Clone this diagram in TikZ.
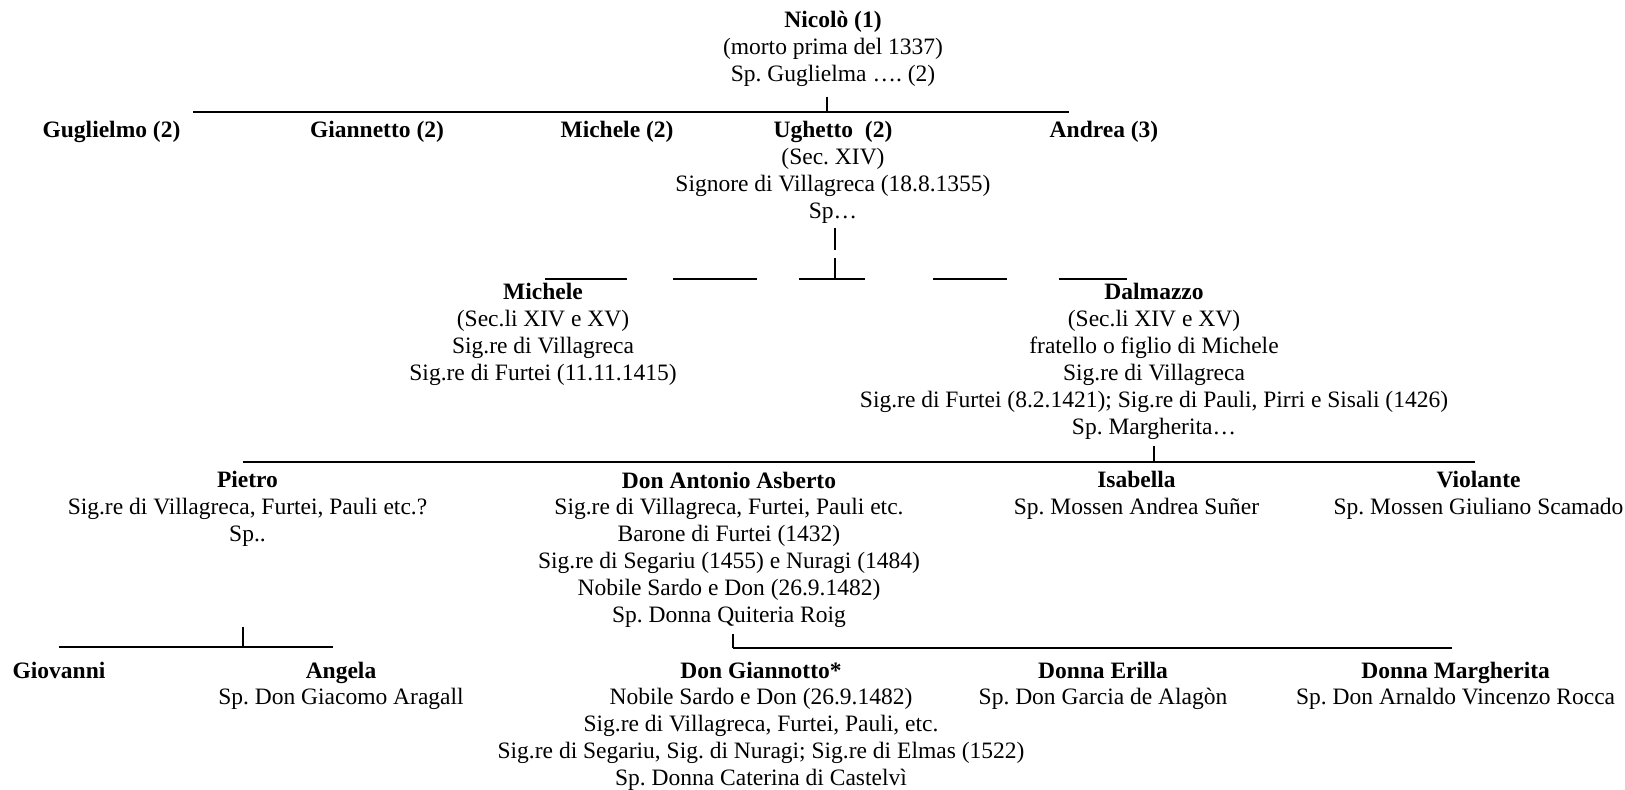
\documentclass[tikz,border=0pt]{standalone}
\usepackage{fontspec}
\setmainfont{Liberation Serif}
\usepackage{tikz}
\frenchspacing

\begin{document}
\begin{tikzpicture}[x=0.5pt,y=-0.5pt,
  pers/.style={align=center,anchor=base,inner sep=0pt,font=\fontsize{11.75}{13.45}\selectfont},
  bus/.style={line width=0.9pt},
  stem/.style={line width=0.6pt}]
  \useasboundingbox (0,0) rectangle (1625,790);
  \def\ls{26.9} % interlinea; anchor=base cade sull'ultima riga
  % generazione 1
  \node[pers] (nicolo) at (833,{28+2*\ls}) {\textbf{Nicolò (1)}\\(morto prima del 1337)\\Sp. Guglielma …. (2)};
  \coordinate (b1w) at (193,112); \coordinate (b1e) at (1069,112); \coordinate (b1t) at (827,97);
  \draw[bus] (b1w) -- (b1e); \draw[stem] (b1t) -- (b1t |- b1w);
  % generazione 2
  \node[pers] (guglielmo) at (111.5,138) {\textbf{Guglielmo (2)}};
  \node[pers] (giannetto) at (377,138) {\textbf{Giannetto (2)}};
  \node[pers] (michele2) at (617,138) {\textbf{Michele (2)}};
  \node[pers] (ughetto) at (833,{138+3*\ls}) {\textbf{Ughetto\ \ (2)}\\(Sec. XIV)\\Signore di Villagreca (18.8.1355)\\Sp…};
  \node[pers] (andrea) at (1104,138) {\textbf{Andrea (3)}};
  \coordinate (u1) at (835,228); \coordinate (u2) at (835,250); \coordinate (u3) at (835,258); \coordinate (u4) at (835,279);
  \draw[stem] (u1) -- (u2); \draw[stem] (u3) -- (u4);
  \foreach \a/\b in {545/627,673/757,799/865,933/1007,1059/1127} \draw[bus] (\a,279) -- (\b,279);
  % generazione 3
  \node[pers] (michele) at (543,{300+3*\ls}) {\textbf{Michele}\\(Sec.li XIV e XV)\\Sig.re di Villagreca\\Sig.re di Furtei (11.11.1415)};
  \node[pers] (dalmazzo) at (1154,{300+5*\ls}) {\textbf{Dalmazzo}\\(Sec.li XIV e XV)\\fratello o figlio di Michele\\Sig.re di Villagreca\\Sig.re di Furtei (8.2.1421); Sig.re di Pauli, Pirri e Sisali (1426)\\Sp. Margherita…};
  \coordinate (b2w) at (243,462); \coordinate (b2e) at (1475,462); \coordinate (b2t) at (1154,446);
  \draw[bus] (b2w) -- (b2e); \draw[stem] (b2t) -- (b2t |- b2w);
  % generazione 4
  \node[pers] (pietro) at (247.5,{488+2*\ls}) {\textbf{Pietro}\\Sig.re di Villagreca, Furtei, Pauli etc.?\\Sp..};
  \node[pers] (antonio) at (729,{488+5*\ls}) {\textbf{Don Antonio Asberto}\\Sig.re di Villagreca, Furtei, Pauli etc.\\Barone di Furtei (1432)\\Sig.re di Segariu (1455) e Nuragi (1484)\\Nobile Sardo e Don (26.9.1482)\\Sp. Donna Quiteria Roig};
  \node[pers] (isabella) at (1136.5,{488+\ls}) {\textbf{Isabella}\\Sp. Mossen Andrea Suñer};
  \node[pers] (violante) at (1478.5,{488+\ls}) {\textbf{Violante}\\Sp. Mossen Giuliano Scamado};
  \coordinate (b3w) at (59,647); \coordinate (b3e) at (333,647); \coordinate (b3t) at (243,627);
  \draw[bus] (b3w) -- (b3e); \draw[stem] (b3t) -- (b3t |- b3w);
  \coordinate (b4w) at (733,648); \coordinate (b4e) at (1452,648); \coordinate (b4t) at (733,634);
  \draw[bus] (b4w) -- (b4e); \draw[stem] (b4t) -- (b4w);
  % generazione 5
  \node[pers] (giovanni) at (59,678) {\textbf{Giovanni}};
  \node[pers] (angela) at (341,{678+\ls}) {\textbf{Angela}\\Sp. Don Giacomo Aragall};
  \node[pers] (giannotto) at (761,{678+4*\ls}) {\textbf{Don Giannotto*}\\Nobile Sardo e Don (26.9.1482)\\Sig.re di Villagreca, Furtei, Pauli, etc.\\Sig.re di Segariu, Sig. di Nuragi; Sig.re di Elmas (1522)\\Sp. Donna Caterina di Castelvì};
  \node[pers] (erilla) at (1103,{678+\ls}) {\textbf{Donna Erilla}\\Sp. Don Garcia de Alagòn};
  \node[pers] (margherita) at (1455.6,{678+\ls}) {\textbf{Donna Margherita}\\Sp. Don Arnaldo Vincenzo Rocca};
\end{tikzpicture}
\end{document}
